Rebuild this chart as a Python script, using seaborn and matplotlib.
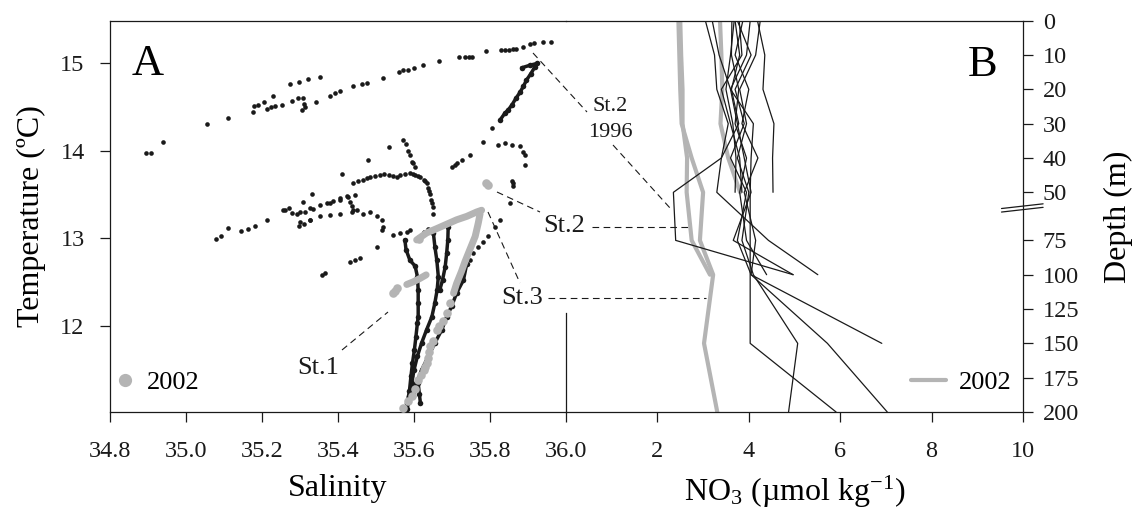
import numpy as np
import pandas as pd
import matplotlib
matplotlib.use("Agg")
import matplotlib.pyplot as plt
import seaborn as sns
from matplotlib.lines import Line2D

sns.set_theme(style="ticks")
plt.rcParams["font.family"] = ["Liberation Serif", "DejaVu Serif"]
plt.rcParams["mathtext.fontset"] = "stix"
plt.rcParams["mathtext.default"] = "regular"
plt.rcParams["text.color"] = "black"
plt.rcParams["axes.labelcolor"] = "black"

# ------------------------------------------------------------------
# Panel A : T-S diagram  (salinity, temperature degC)
# ------------------------------------------------------------------
# 1996 casts, individually resolved observations
ts_1996_surface = [
    (34.896, 13.97), (34.907, 13.98), (34.940, 14.10), (35.054, 14.31), (35.111, 14.38),
    (35.175, 14.45), (35.179, 14.51), (35.190, 14.52), (35.204, 14.56), (35.212, 14.48),
    (35.223, 14.50), (35.234, 14.51), (35.252, 14.52), (35.230, 14.63), (35.274, 14.76),
    (35.298, 14.79), (35.322, 14.82), (35.353, 14.85), (35.278, 14.57), (35.296, 14.61),
    (35.307, 14.60), (35.310, 14.54), (35.304, 14.47), (35.313, 14.50), (35.342, 14.56),
    (35.379, 14.63), (35.392, 14.66), (35.405, 14.69), (35.440, 14.74), (35.462, 14.76),
    (35.475, 14.78), (35.519, 14.83), (35.560, 14.90), (35.572, 14.92), (35.585, 14.93),
    (35.600, 14.95), (35.623, 14.98), (35.666, 15.03), (35.718, 15.07), (35.733, 15.08),
    (35.745, 15.08), (35.753, 15.08), (35.790, 15.14), (35.829, 15.16), (35.840, 15.16),
    (35.849, 15.16), (35.860, 15.17), (35.869, 15.17), (35.887, 15.19), (35.904, 15.22),
    (35.916, 15.24), (35.940, 15.25), (35.960, 15.25),
]
ts_1996_thermocline = [
    (35.804, 14.26), (35.782, 14.10), (35.747, 13.95), (35.725, 13.89), (35.712, 13.86),
    (35.708, 13.84), (35.700, 13.82),
    (35.822, 14.07), (35.839, 14.09), (35.857, 14.07), (35.879, 14.05), (35.888, 13.99),
    (35.892, 13.95), (35.892, 13.84), (35.861, 13.63), (35.860, 13.60), (35.853, 13.40),
    (35.826, 13.21), (35.813, 13.13), (35.796, 13.02), (35.782, 12.96), (35.769, 12.90),
    (35.756, 12.83), (35.747, 12.75),
    (35.535, 14.04), (35.480, 13.90), (35.410, 13.74),
    (35.570, 14.12), (35.580, 14.08), (35.585, 14.00), (35.589, 13.95), (35.595, 13.87),
    (35.598, 13.86), (35.603, 13.82),
    (35.440, 13.63), (35.452, 13.65), (35.467, 13.67), (35.476, 13.69), (35.484, 13.70),
    (35.497, 13.71), (35.511, 13.72), (35.522, 13.73), (35.533, 13.72), (35.544, 13.71),
    (35.554, 13.70), (35.563, 13.72), (35.576, 13.74), (35.589, 13.75), (35.597, 13.74),
    (35.603, 13.72), (35.610, 13.71), (35.616, 13.70), (35.625, 13.67), (35.630, 13.65),
    (35.633, 13.63), (35.638, 13.57), (35.640, 13.54), (35.642, 13.51), (35.646, 13.44),
    (35.648, 13.40), (35.649, 13.36), (35.651, 13.28),
    (35.331, 13.51), (35.307, 13.42), (35.260, 13.32), (35.278, 13.29), (35.291, 13.28),
    (35.313, 13.30), (35.335, 13.33), (35.370, 13.40), (35.388, 13.43), (35.405, 13.46),
    (35.423, 13.48), (35.427, 13.47), (35.432, 13.42), (35.436, 13.37), (35.440, 13.32),
    (35.300, 13.30), (35.326, 13.34), (35.353, 13.38), (35.379, 13.40), (35.405, 13.44),
    (35.445, 13.49), (35.300, 13.19), (35.326, 13.21), (35.353, 13.25), (35.379, 13.27),
    (35.405, 13.28), (35.436, 13.30), (35.449, 13.32), (35.467, 13.28), (35.484, 13.30),
    (35.502, 13.25), (35.515, 13.21), (35.519, 13.13), (35.515, 13.09),
    (35.079, 12.99), (35.092, 13.02), (35.111, 13.12), (35.144, 13.08), (35.164, 13.10),
    (35.182, 13.14), (35.213, 13.21), (35.255, 13.32), (35.270, 13.34),
    (35.298, 13.14), (35.310, 13.16), (35.326, 13.21),
    (35.502, 12.90), (35.432, 12.73), (35.445, 12.75), (35.458, 12.77),
    (35.357, 12.58), (35.366, 12.60),
    (35.546, 13.04), (35.563, 13.06), (35.581, 13.07), (35.589, 13.09),
    (35.625, 13.07), (35.638, 13.10),
    (35.857, 13.65),
]
# 1996 casts, densely sampled stretches
ts_1996_cast_a = [
    (35.883, 14.95), (35.905, 14.98), (35.923, 15.00), (35.918, 14.96), (35.907, 14.88),
    (35.896, 14.81), (35.888, 14.74), (35.879, 14.67), (35.868, 14.60), (35.857, 14.52),
    (35.848, 14.47), (35.839, 14.43), (35.826, 14.35),
]
ts_1996_cast_b = [
    (35.576, 12.98), (35.579, 12.87), (35.589, 12.75), (35.603, 12.68), (35.609, 12.56),
    (35.611, 12.41), (35.611, 12.26), (35.611, 12.10), (35.609, 12.03), (35.605, 11.87),
    (35.601, 11.72), (35.596, 11.57), (35.592, 11.42), (35.588, 11.25), (35.582, 11.11),
    (35.579, 11.00),
]
ts_1996_cast_c = [
    (35.651, 13.06), (35.655, 12.90), (35.660, 12.75), (35.664, 12.56), (35.661, 12.41),
    (35.655, 12.26), (35.647, 12.10), (35.633, 11.95), (35.620, 11.80), (35.609, 11.65),
    (35.600, 11.49), (35.594, 11.34), (35.588, 11.19), (35.582, 11.04),
]
ts_1996_cast_d = [
    (35.690, 13.13), (35.689, 12.98), (35.686, 12.83), (35.682, 12.67), (35.675, 12.52),
    (35.668, 12.41),
]
ts_1996_cast_e = [
    (35.739, 12.71), (35.730, 12.52), (35.712, 12.37), (35.699, 12.22), (35.686, 12.10),
    (35.673, 11.95), (35.655, 11.80), (35.638, 11.65), (35.620, 11.49), (35.607, 11.34),
    (35.598, 11.19),
]
ts_1996_cast_f = [(35.611, 11.34), (35.614, 11.22), (35.617, 11.11)]

# 2002 casts
ts_2002_points = [
    (35.796, 13.61), (35.790, 13.63), (35.546, 12.37), (35.550, 12.40), (35.554, 12.43),
    (35.612, 12.99), (35.695, 12.26), (35.686, 12.14), (35.675, 12.05), (35.667, 12.00),
    (35.660, 11.95), (35.651, 11.82), (35.642, 11.76), (35.640, 11.70), (35.637, 11.63),
    (35.633, 11.57), (35.629, 11.52), (35.625, 11.49), (35.618, 11.43), (35.611, 11.38),
    (35.603, 11.27), (35.594, 11.19), (35.585, 11.14), (35.572, 11.06),
]
ts_2002_st3_upper = [
    (35.607, 12.98), (35.633, 13.06), (35.660, 13.11), (35.686, 13.16), (35.712, 13.21),
    (35.739, 13.25), (35.765, 13.30), (35.778, 13.32),
]
ts_2002_st3_lower = [
    (35.774, 13.28), (35.769, 13.17), (35.761, 13.02), (35.747, 12.87), (35.734, 12.73),
    (35.725, 12.62), (35.712, 12.48), (35.704, 12.37),
]
ts_2002_st1 = [(35.581, 12.47), (35.598, 12.50), (35.616, 12.54), (35.632, 12.58)]

# ------------------------------------------------------------------
# Panel B : NO3 profiles (umol/kg) at standard depths (m)
# ------------------------------------------------------------------
depth_levels = [0, 10, 20, 30, 40, 50, 75, 100, 150, 200]
no3_1996 = {
    "p01": [3.70, 3.80, 3.62, 3.78, 3.40, 2.35, 2.40, 4.97],
    "p02": [4.19, 4.35, 4.31, 4.55, 4.52, 4.53],
    "p03": [3.05, 3.25, 3.30, 3.55, 3.40, 3.30, 4.43, 5.51],
    "p04": [3.20, 3.35, 3.60, 3.75, 3.90, 4.05, 3.66, 4.97],
    "p05": [3.63, 3.62, 3.78, 3.70, 3.95, 3.80, 3.95, 4.39],
    "p06": [3.75, 4.05, 3.70, 3.90, 3.60, 3.95, 3.75, 4.05, 6.91],
    "p07": [3.87, 3.70, 4.00, 3.85, 4.20, 3.90, 4.15, 4.05, 5.72, 7.03],
    "p08": [4.03, 3.95, 3.60, 4.10, 4.05, 4.03, 4.03, 4.03, 4.03, 5.91],
    "p09": [4.25, 4.15, 3.80, 3.95, 3.75, 4.00, 3.85, 4.10, 5.07, 4.87],
    "p10": [3.68, 3.60, 3.50, 3.65, 3.72, 3.70],
    "p11": [3.79, 3.85, 3.40, 3.60, 3.80, 3.85],
}
no3_2002 = {
    "g1": [2.46, 2.48, 2.50, 2.53, 2.75, 3.00, 2.93, 3.22, 3.02, 3.31],
    "g2": [2.50, 2.52, 2.55, 2.55, 2.65, 2.64, 2.75, 3.15],
    "g3": [3.37, 3.40, 3.42, 3.38, 3.55, 3.81],
}

# ------------------------------------------------------------------
def ts_frame(named):
    rows = []
    for name, pts in named.items():
        for s, t in pts:
            rows.append((name, s, t))
    return pd.DataFrame(rows, columns=["trace", "sal", "temp"])

def no3_frame(named):
    rows = []
    for name, vals in named.items():
        for d, v in zip(depth_levels, vals):
            rows.append((name, d, v))
    return pd.DataFrame(rows, columns=["profile", "depth", "no3"])

df_sparse96 = ts_frame({"s": ts_1996_surface, "t": ts_1996_thermocline})
df_dense96 = ts_frame({"a": ts_1996_cast_a, "b": ts_1996_cast_b, "c": ts_1996_cast_c,
                       "d": ts_1996_cast_d, "e": ts_1996_cast_e, "f": ts_1996_cast_f})
df_pts02 = ts_frame({"p": ts_2002_points})
df_dense02 = ts_frame({"u": ts_2002_st3_upper, "l": ts_2002_st3_lower, "s1": ts_2002_st1})
df_b96 = no3_frame(no3_1996)
df_b02 = no3_frame(no3_2002)

GRAY = "#b4b4b4"
W, H = 1133, 508
fig = plt.figure(figsize=(W / 100, H / 100), dpi=100)
axA = fig.add_axes([110 / W, 1 - 412 / H, 456 / W, 391.3 / H])
axB = fig.add_axes([566 / W, 1 - 412 / H, 457 / W, 391.3 / H])
axB.patch.set_visible(False)

# ---- panel A
sns.lineplot(data=df_dense96, x="sal", y="temp", units="trace", estimator=None, sort=False,
             color="k", lw=2.5, ax=axA, legend=False, solid_capstyle="round",
             marker="o", markersize=4.0, markeredgewidth=0)
sns.scatterplot(data=df_sparse96, x="sal", y="temp", color="k", s=11, linewidth=0,
                ax=axA, legend=False)
sns.lineplot(data=df_dense02, x="sal", y="temp", units="trace", estimator=None, sort=False,
             color=GRAY, lw=5.0, ax=axA, legend=False, solid_capstyle="round", zorder=3)
sns.scatterplot(data=df_pts02, x="sal", y="temp", color=GRAY, s=38, linewidth=0,
                ax=axA, legend=False, zorder=3)
axA.set_xlim(34.8, 36.0)
axA.set_ylim(11.01, 15.49)
axA.set_xticks([34.8, 35.0, 35.2, 35.4, 35.6, 35.8, 36.0])
axA.set_xticklabels(["34.8", "35.0", "35.2", "35.4", "35.6", "35.8", "36.0"])
axA.set_yticks([12, 13, 14, 15])
axA.set_xlabel("Salinity", fontsize=23, labelpad=8)
axA.set_ylabel("Temperature (ºC)", fontsize=23, labelpad=10)
axA.spines["right"].set_bounds(11.01, 12.145)
axA.tick_params(axis="both", direction="out", length=7.2, width=0.9, labelsize=17.5,
                colors="k")
axA.tick_params(axis="x", pad=14)
axA.tick_params(axis="y", pad=11)
axA.text(0.048, 0.861, "A", transform=axA.transAxes, fontsize=32, va="baseline")
hA = Line2D([], [], marker="o", ls="none", color=GRAY, markersize=8.5)
axA.legend([hA], ["2002"], loc="lower left", bbox_to_anchor=(0.005, 0.045), frameon=False,
           fontsize=19, handlelength=1.0, handletextpad=0.3, borderaxespad=0, borderpad=0)

# ---- panel B
sns.lineplot(data=df_b02, x="no3", y="depth", units="profile", estimator=None, sort=False,
             color=GRAY, lw=3.0, ax=axB, legend=False, zorder=2)
sns.lineplot(data=df_b96, x="no3", y="depth", units="profile", estimator=None, sort=False,
             color="k", lw=0.9, ax=axB, legend=False, zorder=3)
depth_knots = [0, 50, 75, 200]
axis_knots = [0, 5, 6.4, 11.4]
axB.set_yscale("function", functions=(lambda d: np.interp(d, depth_knots, axis_knots),
                                      lambda p: np.interp(p, axis_knots, depth_knots)))
axB.set_xlim(0, 10)
axB.set_ylim(200, 0)
axB.set_xticks([2, 4, 6, 8, 10])
axB.set_xticklabels(["2", "4", "6", "8", "10"])
axB.set_yticks([0, 10, 20, 30, 40, 50, 75, 100, 125, 150, 175, 200])
axB.set_yticklabels(["0", "10", "20", "30", "40", "50", "75", "100", "125", "150", "175", "200"])
axB.yaxis.tick_right()
axB.yaxis.set_label_position("right")
axB.spines["left"].set_visible(False)
axB.tick_params(axis="both", direction="out", length=7.2, width=0.9, labelsize=17.5,
                colors="k")
axB.tick_params(axis="x", pad=14)
axB.tick_params(axis="y", pad=7)
axB.set_xlabel("NO$_3$ (µmol kg$^{-1}$)", fontsize=23, labelpad=8)
axB.set_ylabel("Depth (m)", fontsize=23, labelpad=18)
axB.text(0.945, 0.859, "B", transform=axB.transAxes, fontsize=32, va="baseline", ha="right")
hB = Line2D([], [], color=GRAY, lw=3.0)
axB.legend([hB], ["2002"], loc="lower right", bbox_to_anchor=(0.975, 0.045), frameon=False,
           fontsize=19, handlelength=1.3, handletextpad=0.5, borderaxespad=0, borderpad=0)
for dy in (0.0, 0.009):
    axB.plot([0.953, 1.044], [0.511 + dy, 0.523 + dy], transform=axB.transAxes,
             color="k", lw=0.9, clip_on=False)

for ax in (axA, axB):
    for sp in ax.spines.values():
        sp.set_linewidth(0.9)
        sp.set_color("k")

# ---- station annotations (figure pixel positions)
def fp(x, y):
    return x / W, 1 - y / H

leaders = [((533, 53), (587, 112)), ((613, 145), (670, 208)), ((497, 192), (540, 212)),
           ((592, 227), (690, 227)), ((488, 212), (520, 283)), ((548, 298), (706, 298)),
           ((342, 350), (388, 312))]
for (x1, y1), (x2, y2) in leaders:
    p1, p2 = fp(x1, y1), fp(x2, y2)
    fig.add_artist(Line2D([p1[0], p2[0]], [p1[1], p2[1]], transform=fig.transFigure,
                          color="k", lw=0.8, ls=(0, (6, 4))))
for (x, y), txt, fs in [((610, 106.5), "St.2", 16), ((610.5, 132.5), "1996", 16),
                        ((564, 226), "St.2", 19), ((522, 298), "St.3", 19),
                        ((318, 367.5), "St.1", 19)]:
    fig.text(*fp(x, y), txt, ha="center", va="center", fontsize=fs, color="k")

fig.savefig("out.png", dpi=100)
